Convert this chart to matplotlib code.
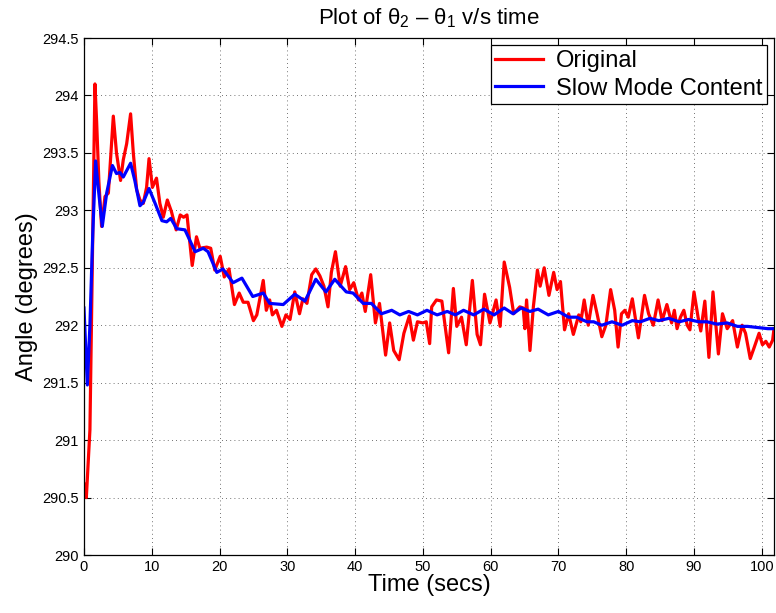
import numpy as np
import matplotlib.pyplot as plt

plt.rcParams['font.family'] = ['Liberation Sans', 'DejaVu Sans']
plt.rcParams['mathtext.fontset'] = 'custom'
plt.rcParams['mathtext.rm'] = 'Liberation Sans'
plt.rcParams['mathtext.it'] = 'Liberation Sans:italic'

# datos

t_orig = [0, 0.35, 0.88, 1.25, 1.62, 1.87, 2.2, 2.6, 3.1, 3.6, 4.33, 4.8, 5.4, 5.8, 6.3,
          6.88, 7.28, 7.77, 8.26, 8.75, 9.24, 9.6, 10.1, 10.7, 11.2, 11.7, 12.3, 12.9,
          13.6, 14.2, 14.7, 15.2, 15.97, 16.6, 17.1, 18.1, 18.7, 19.3, 20.1, 20.7, 21.4,
          22.2, 22.9, 23.5, 24.2, 25.0, 25.5, 26.45, 26.9, 27.4, 27.8, 28.4, 29.2, 29.8,
          30.4, 31.1, 31.8, 32.3, 32.9, 33.6, 34.2, 34.8, 35.4, 36.0, 36.5, 37.1, 37.8,
          38.6, 39.2, 39.8, 40.5, 41.0, 41.5, 42.3, 43.0, 43.6, 44.5, 45.1, 45.7, 46.5,
          47.2, 48.0, 48.6, 49.2, 50.0, 50.5, 51.0, 51.3, 52.0, 52.8, 53.8, 54.5, 55.0,
          55.7, 56.4, 57.3, 58.0, 58.5, 59.1, 59.9, 60.8, 61.4, 62.0, 62.8, 63.4, 64.3,
          64.8, 65.05, 65.3, 65.8, 66.3, 66.9, 67.3, 67.9, 68.6, 69.3, 69.8, 70.3, 70.9,
          71.5, 72.2, 73.0, 73.3, 73.8, 74.4, 75.1, 75.7, 76.4, 77.0, 77.7, 78.3, 78.8,
          79.3, 79.8, 80.3, 80.9, 81.8, 82.7, 83.3, 84.0, 84.7, 85.3, 86.0, 86.7, 87.1,
          87.5, 88.0, 88.5, 89.0, 89.4, 90.0, 90.6, 91.0, 91.6, 92.2, 92.8, 93.6, 94.2,
          94.9, 95.7, 96.4, 97.1, 97.6, 98.3, 98.9, 99.6, 100.1, 100.6, 101.1, 101.6, 101.8]
ang_orig = [290.62, 290.5, 291.09, 292.6, 294.1, 293.77, 293.25, 292.86, 293.12, 293.15,
            293.82, 293.5, 293.26, 293.44, 293.58, 293.84, 293.5, 293.18, 293.09, 293.06,
            293.2, 293.45, 293.2, 293.28, 293.06, 292.94, 293.09, 292.99, 292.83, 292.96,
            292.94, 292.96, 292.52, 292.77, 292.67, 292.68, 292.67, 292.48, 292.6, 292.42,
            292.49, 292.18, 292.28, 292.2, 292.2, 292.04, 292.09, 292.39, 292.13, 292.22,
            292.09, 292.13, 291.99, 292.09, 292.05, 292.29, 292.1, 292.23, 292.19, 292.44,
            292.49, 292.43, 292.34, 292.16, 292.46, 292.64, 292.34, 292.51, 292.31, 292.37,
            292.22, 292.28, 292.12, 292.44, 292.02, 292.19, 291.74, 292.02, 291.78, 291.7,
            291.93, 292.08, 291.87, 292.03, 292.02, 292.03, 291.84, 292.16, 292.22, 292.21,
            291.76, 292.32, 291.99, 292.07, 291.83, 292.39, 291.92, 291.83, 292.27, 292.02,
            292.22, 291.99, 292.55, 292.33, 292.1, 292.16, 292.15, 291.97, 292.22, 291.78,
            292.16, 292.48, 292.34, 292.5, 292.26, 292.46, 292.31, 292.38, 291.96, 292.1,
            291.92, 292.09, 292.03, 292.22, 292.0, 292.26, 292.1, 291.9, 292.0, 292.31,
            292.13, 291.81, 292.1, 292.13, 292.07, 292.23, 291.89, 292.26, 292.1, 292.0,
            292.22, 292.04, 292.18, 292.02, 292.13, 291.97, 292.07, 292.13, 292.0, 291.96,
            292.29, 292.07, 291.95, 292.21, 291.72, 292.29, 291.75, 292.1, 291.97, 292.04,
            291.81, 292.0, 291.93, 291.71, 291.81, 291.93, 291.83, 291.86, 291.81, 291.87,
            291.97]

t_slow = [0, 0.5, 0.88, 1.3, 1.72, 2.1, 2.7, 3.35, 4.2, 4.8, 5.3, 5.8, 6.88, 7.5, 8.26,
          8.75, 9.6, 10.5, 11.5, 12.2, 12.8, 13.7, 14.9, 16.4, 17.6, 18.3, 19.6, 20.5,
          22.0, 23.3, 24.9, 26.45, 27.4, 29.4, 31.1, 32.6, 34.2, 35.7, 37.0, 38.7, 39.7,
          41.2, 42.4, 43.9, 45.4, 46.6, 47.9, 49.2, 50.6, 52.1, 53.6, 54.8, 56.0, 57.5,
          59.0, 60.5, 62.0, 63.3, 64.5, 65.8, 67.0, 68.5, 70.0, 71.5, 72.7, 74.2, 75.2,
          76.4, 77.9, 79.4, 80.9, 82.1, 83.5, 84.8, 86.3, 87.8, 89.2, 90.7, 91.9, 93.4,
          94.9, 96.4, 97.9, 99.4, 100.9, 101.8]
ang_slow = [292.15, 291.48, 292.0, 292.8, 293.43, 293.2, 292.86, 293.15, 293.39, 293.32,
            293.33, 293.29, 293.41, 293.26, 293.04, 293.07, 293.19, 293.06, 292.91, 292.9,
            292.93, 292.84, 292.83, 292.64, 292.67, 292.64, 292.46, 292.49, 292.37, 292.41,
            292.25, 292.28, 292.19, 292.18, 292.27, 292.21, 292.4, 292.29, 292.4, 292.29,
            292.28, 292.19, 292.19, 292.1, 292.13, 292.09, 292.12, 292.09, 292.13, 292.09,
            292.12, 292.09, 292.13, 292.09, 292.14, 292.09, 292.15, 292.1, 292.15, 292.12,
            292.14, 292.09, 292.12, 292.07, 292.07, 292.03, 292.03, 292.0, 292.03, 292.0,
            292.04, 292.03, 292.06, 292.04, 292.06, 292.03, 292.05, 292.03, 292.03, 292.01,
            292.02, 291.99, 291.99, 291.98, 291.97, 291.97]

# ploteo

fig = plt.figure(figsize=(7.76, 6.13), dpi=100)
ax = fig.add_axes([0.1082, 0.0946, 0.8892, 0.8434])

ax.plot(t_orig, ang_orig, color='#ff0000', lw=2.3, label='Original')
ax.plot(t_slow, ang_slow, color='#0000ff', lw=2.3, label='Slow Mode Content')

ax.set_xlim(0, 101.8)
ax.set_ylim(290, 294.5)
ax.set_xticks(np.arange(0, 101, 10))
ax.set_yticks(np.arange(290, 294.6, 0.5))
ax.set_yticklabels(['290', '290.5', '291', '291.5', '292', '292.5', '293', '293.5', '294', '294.5'])

ax.grid(True, color='#444444', linestyle=(0, (1, 4)), linewidth=0.6)
ax.tick_params(direction='in', top=True, right=True, length=5, width=0.8, labelsize=10.5)
for s in ax.spines.values():
    s.set_linewidth(0.9)

ax.set_xlabel('Time (secs)', fontsize=17, labelpad=0)
ax.set_ylabel('Angle (degrees)', fontsize=17, labelpad=3)
ax.set_title(r'Plot of θ$_{\mathregular{2}}$ – θ$_{\mathregular{1}}$ v/s time', fontsize=16, pad=10)

leg = ax.legend(loc='upper right', fontsize=17, fancybox=False, framealpha=1,
                edgecolor='black', borderpad=0.2, labelspacing=0.25, handlelength=2.0,
                handletextpad=0.55, borderaxespad=0.3)
leg.get_frame().set_linewidth(0.9)

plt.savefig('out.png', dpi=100)
